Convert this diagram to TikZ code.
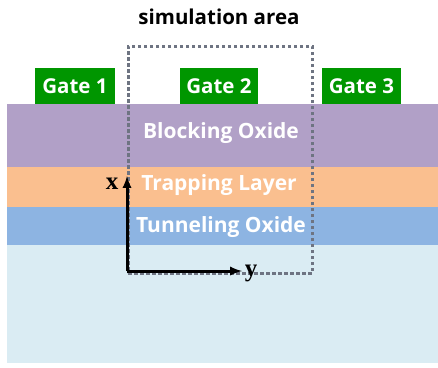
\documentclass[tikz,border=0pt]{standalone}
\usepackage{fontspec}
\setmainfont{Open Sans}
\newfontfamily\axisfont{Liberation Serif}
\usetikzlibrary{arrows,positioning}

\definecolor{blockcol}{RGB}{177,160,199}
\definecolor{trapcol}{RGB}{250,191,143}
\definecolor{tunnelcol}{RGB}{141,180,226}
\definecolor{subcol}{RGB}{218,236,243}
\definecolor{gatecol}{RGB}{0,150,0}
\definecolor{dotcol}{RGB}{110,116,130}

\tikzset{
	layer/.style={rectangle,inner sep=0pt,minimum width=431pt,text=white,font=\fontsize{21}{24}\selectfont\bfseries},
	gate/.style={rectangle,fill=gatecol,inner sep=0pt,minimum height=36pt,text=white,font=\fontsize{20.5}{24}\selectfont\bfseries},
	axislabel/.style={font=\fontsize{25}{26}\selectfont\axisfont\bfseries}
}

\begin{document}
\begin{tikzpicture}[x=1pt,y=-1pt]
		\useasboundingbox (0,0) rectangle (438,367);
		% layer stack
		\node[layer,fill=blockcol,minimum height=63pt] (block) at (222.5,135.5) {};
		\node[layer,fill=trapcol,minimum height=40pt] (trap) at (222.5,187) {};
		\node[layer,fill=tunnelcol,minimum height=38pt] (tunnel) at (222.5,226) {};
		\node[layer,fill=subcol,minimum height=118pt] (sub) at (222.5,304) {};
		\node[layer] (blocktext) at (221,133) {Blocking Oxide};
		\node[layer] (traptext) at (219,185) {Trapping Layer};
		\node[layer] (tunneltext) at (221,227) {Tunneling Oxide};
		% gates
		\node[gate,minimum width=80pt] (g1) at (75,86) {Gate 1};
		\node[gate,minimum width=78pt] (g2) at (219,86) {Gate 2};
		\node[gate,minimum width=79pt] (g3) at (361.5,86) {Gate 3};
		% simulation area
		\node[draw=dotcol,line width=3pt,dash pattern=on 3.5pt off 2.5pt,minimum width=184pt,minimum height=227pt,inner sep=0pt] (sim) at (220,159.5) {};
		\node[font=\fontsize{20.5}{24}\selectfont\bfseries] (title) at (219,17) {simulation area};
		% axes
		\coordinate (o) at (127,271);
		\coordinate (xend) at (127,176);
		\coordinate (yend) at (242,271);
		\draw[->,>=latex,line width=3pt] (o) -- (xend);
		\draw[->,>=latex,line width=3pt] (o) -- (yend);
		\node[axislabel] (xlab) at (112,184) {x};
		\node[axislabel] (ylab) at (251,273) {y};
	\end{tikzpicture}
\end{document}
